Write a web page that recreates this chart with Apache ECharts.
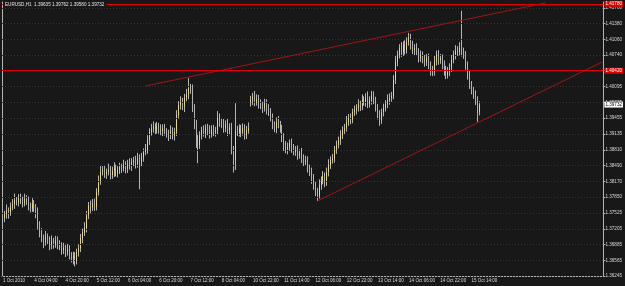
<!DOCTYPE html>
<html><head><meta charset="utf-8">
<script src="https://cdn.jsdelivr.net/npm/echarts@6/dist/echarts.min.js"></script>
<style>html,body{margin:0;padding:0;background:#181818;}#c{width:625px;height:286px;}</style>
</head><body><div id="c"></div><script>
const symbolTitle = 'EURUSD,H1  1.39635 1.39762 1.39580 1.39732';
const timeTickLabels = ['1 Oct 2010','4 Oct 04:00','4 Oct 20:00','5 Oct 12:00','6 Oct 04:00','6 Oct 20:00','7 Oct 12:00','8 Oct 04:00','10 Oct 22:00','11 Oct 14:00','12 Oct 06:00','12 Oct 22:00','13 Oct 14:00','14 Oct 06:00','14 Oct 22:00','15 Oct 14:00'];
const barsPerTimeLabel = 16;
const priceTickValues = [1.36245,1.36565,1.36885,1.37205,1.37525,1.37850,1.38170,1.38490,1.38810,1.39135,1.39455,1.39775,1.40095,1.40420,1.40740,1.41060,1.41380,1.41700];
const priceMin = 1.36245, priceMax = 1.41818;
const closes = [
1.3742,1.3750,1.3758,1.3754,1.3766,1.3771,1.3779,1.3775,1.3783,1.3779,
1.3773,1.3781,1.3777,1.3768,1.3762,1.3771,1.3764,1.3754,1.3728,1.3713,
1.3701,1.3693,1.3705,1.3697,1.3687,1.3695,1.3689,1.3697,1.3691,1.3685,
1.3677,1.3683,1.3673,1.3679,1.3667,1.3660,1.3665,1.3656,1.3673,1.3681,
1.3701,1.3713,1.3722,1.3748,1.3768,1.3764,1.3773,1.3766,1.3795,1.3819,
1.3836,1.3840,1.3832,1.3836,1.3842,1.3830,1.3838,1.3844,1.3834,1.3840,
1.3846,1.3844,1.3850,1.3842,1.3852,1.3848,1.3856,1.3860,1.3852,1.3864,
1.3856,1.3866,1.3877,1.3881,1.3901,1.3917,1.3925,1.3927,1.3921,1.3929,
1.3923,1.3919,1.3925,1.3917,1.3915,1.3911,1.3919,1.3909,1.3917,1.3952,
1.3972,1.3978,1.3970,1.3987,1.3993,1.4007,1.4005,1.3966,1.3932,1.3905,
1.3891,1.3911,1.3921,1.3915,1.3925,1.3919,1.3913,1.3923,1.3917,1.3921,
1.3946,1.3938,1.3932,1.3925,1.3934,1.3921,1.3927,1.3881,1.3860,1.3921,
1.3917,1.3925,1.3917,1.3925,1.3911,1.3921,1.3925,1.3982,1.3989,1.3978,
1.3985,1.3974,1.3972,1.3966,1.3976,1.3962,1.3958,1.3946,1.3932,1.3925,
1.3938,1.3932,1.3925,1.3905,1.3891,1.3881,1.3887,1.3895,1.3885,1.3877,
1.3881,1.3870,1.3875,1.3864,1.3856,1.3860,1.3844,1.3836,1.3824,1.3809,
1.3795,1.3789,1.3809,1.3819,1.3828,1.3815,1.3836,1.3850,1.3860,1.3864,
1.3881,1.3891,1.3901,1.3911,1.3921,1.3925,1.3938,1.3946,1.3942,1.3958,
1.3962,1.3966,1.3974,1.3970,1.3982,1.3978,1.3987,1.3974,1.3982,1.3991,
1.3982,1.3966,1.3952,1.3942,1.3958,1.3966,1.3974,1.3982,1.3987,1.3991,
1.4023,1.4060,1.4074,1.4088,1.4080,1.4094,1.4084,1.4101,1.4109,1.4094,
1.4084,1.4088,1.4080,1.4068,1.4074,1.4064,1.4060,1.4068,1.4054,1.4044,
1.4040,1.4060,1.4074,1.4064,1.4068,1.4054,1.4044,1.4033,1.4040,1.4048,
1.4064,1.4074,1.4084,1.4080,1.4088,1.4080,1.4074,1.4054,1.4033,1.4013,
1.4003,1.3993,1.3982,1.3958,1.3973];
// upper wick length above the body, in pips (0.0001)
const highWickPips = [
9,7,12,6,8,10,13,6,8,9, 7,11,8,9,6,12,8,7,10,8, 9,8,11,6,8,12,7,9,8,6, 8,9,7,11,8,6,9,8,7,8,
9,8,12,9,7,10,8,9,8,10, 12,8,9,7,11,8,9,12,7,8, 9,7,11,8,9,12,8,7,9,11, 8,9,7,12,10,8,9,12,8,9,
7,10,8,9,8,7,12,8,9,10, 8,12,9,8,12,20,8,9,8,10, 9,8,7,10,8,9,12,8,9,7, 14,9,8,12,7,10,8,9,8,55,
9,8,7,10,8,9,12,9,8,12, 9,8,10,7,9,8,12,8,9,7, 9,12,8,7,10,8,9,7,9,8, 8,9,7,10,8,9,8,7,9,8,
7,9,12,8,10,7,9,12,8,9, 8,9,7,10,8,9,12,8,9,7, 9,8,10,7,12,8,9,13,8,10, 9,7,8,10,7,9,8,12,9,8,
10,12,9,8,12,8,10,9,10,8, 9,8,10,8,9,7,10,8,9,7, 8,12,9,10,8,7,9,8,10,9, 10,9,10,8,12,76,9,8,7,9,
8,7,9,8,7];
// lower wick length below the body, in pips (0.0001)
const lowWickPips = [
12,8,9,13,7,8,10,7,9,8, 9,7,8,10,8,7,9,12,9,10, 8,12,7,9,10,8,9,7,12,8, 9,8,10,7,9,8,12,12,8,9,
8,10,7,9,8,12,7,9,8,7, 9,7,8,10,7,9,8,12,7,9, 8,10,7,9,8,7,10,8,9,7, 55,8,9,7,8,10,7,9,8,7,
9,8,10,7,9,12,8,7,9,8, 7,9,8,12,7,9,10,8,9,20, 37,8,9,7,10,8,9,7,8,9, 8,10,7,9,8,12,8,9,25,20,
8,9,10,7,9,8,7,9,10,8, 7,9,8,10,7,9,8,7,9,8, 10,7,9,8,12,7,9,8,10,7, 8,9,7,10,8,7,9,8,12,9,
8,12,7,9,8,10,7,9,8,7, 9,8,7,10,8,9,7,8,9,7, 8,9,7,10,8,7,9,8,7,9, 8,7,9,12,8,9,7,8,9,8,
7,8,9,7,10,8,9,7,8,9, 8,10,7,9,8,7,10,8,9,12, 9,8,7,10,8,9,12,8,7,9, 8,7,9,8,7,9,8,10,9,8,
9,8,10,20,7];
const firstOpen = 1.3746;
const gapOpens = {127: 1.3978};
const horizontalLines = [1.40420, 1.41780];
const lastPrice = 1.39732;
const upperTrend = [[73, 1.4011], [278, 1.4180]];
const lowerTrend = [[161, 1.3777], [307, 1.4060]];
const slotCount = 308;

const slots = [];
for (let i = 0; i < slotCount; i++) slots.push(String(i));
const opens = closes.map((c, i) => i === 0 ? firstOpen : (gapOpens[i] !== undefined ? gapOpens[i] : closes[i - 1]));
const candles = closes.map((c, i) => {
  const o = opens[i];
  return [o, c, Math.min(o, c) - lowWickPips[i] * 0.0001, Math.max(o, c) + highWickPips[i] * 0.0001];
});
// bullish bodies drawn on top in yellow (no wicks)
const bullBodies = closes.map((c, i) => {
  const o = opens[i];
  return c > o ? [o, c, o, c] : '-';
});

const FONT = 'Liberation Sans';
const showTick = (i) => i % barsPerTimeLabel === 0 && i / barsPerTimeLabel < timeTickLabels.length;
const chart = echarts.init(document.getElementById('c'), null, {renderer: 'canvas'});
const boxLabel = (bg, fg) => ({
  show: true, position: 'end', distance: 1,
  formatter: (p) => Number(p.value).toFixed(5),
  backgroundColor: bg, color: fg, fontFamily: FONT, fontSize: 4.6, padding: [1, 1, 0, 1]
});
chart.setOption({
  backgroundColor: '#181818',
  animation: false,
  title: {
    text: symbolTitle, left: 3, top: 1, padding: [1, 2],
    backgroundColor: '#181818',
    textStyle: {color: '#e6e6e6', fontSize: 4.6, fontWeight: 'normal', fontFamily: FONT}
  },
  grid: {left: 2, right: 21, top: 2, bottom: 10},
  xAxis: {
    type: 'category', data: slots, boundaryGap: true,
    axisLine: {lineStyle: {color: '#b4b4b4', width: 1}},
    axisTick: {interval: showTick, alignWithLabel: true, length: 3, lineStyle: {color: '#b4b4b4'}},
    axisLabel: {interval: showTick, formatter: (v, i) => timeTickLabels[i / barsPerTimeLabel],
      align: 'left', margin: 2, color: '#d8d8d8', fontSize: 4.5, fontFamily: FONT},
    splitLine: {show: false}
  },
  yAxis: [{
    type: 'value', position: 'right', min: priceMin, max: priceMax, scale: true,
    axisLine: {show: true, lineStyle: {color: '#b4b4b4'}},
    axisTick: {show: true, customValues: priceTickValues, length: 2, lineStyle: {color: '#b4b4b4'}},
    axisLabel: {customValues: priceTickValues, formatter: (v) => v.toFixed(5), margin: 2,
      color: '#d8d8d8', fontSize: 4.6, fontFamily: FONT},
    splitLine: {show: false}
  }, {
    type: 'value', position: 'left', min: priceMin, max: priceMax,
    axisLine: {show: true, lineStyle: {color: '#b4b4b4'}},
    axisTick: {show: false}, axisLabel: {show: false}, splitLine: {show: false}
  }],
  series: [{
    type: 'line', data: [], silent: true, z: 1,
    markLine: {
      silent: true, symbol: ['none', 'none'], label: {show: false}, animation: false, precision: 5,
      lineStyle: {color: '#363636', type: [1, 2], width: 1},
      data: priceTickValues.map(v => ({yAxis: v}))
    }
  }, {
    type: 'candlestick', data: candles, barWidth: 1, z: 3,
    itemStyle: {color: '#b4b4b4', color0: '#b4b4b4', borderColor: '#b4b4b4', borderColor0: '#b4b4b4', borderWidth: 1}
  }, {
    type: 'candlestick', data: bullBodies, barWidth: 1, z: 4,
    itemStyle: {color: '#ead87f', color0: '#ead87f', borderColor: '#ead87f', borderColor0: '#ead87f', borderWidth: 1}
  }, {
    type: 'line', data: [], silent: true, z: 6,
    markLine: {
      silent: true, symbol: ['none', 'none'], animation: false, precision: 5,
      data: [
        [{coord: upperTrend[0], lineStyle: {color: '#a01414', type: 'solid', width: 1}, label: {show: false}}, {coord: upperTrend[1]}],
        [{coord: lowerTrend[0], lineStyle: {color: '#a01414', type: 'solid', width: 1}, label: {show: false}}, {coord: lowerTrend[1]}],
        {yAxis: horizontalLines[0], lineStyle: {color: '#e00000', type: 'solid', width: 1}, label: boxLabel('#e00000', '#ffffff')},
        {yAxis: horizontalLines[1], lineStyle: {color: '#e00000', type: 'solid', width: 1}, label: boxLabel('#e00000', '#ffffff')},
        {yAxis: lastPrice, lineStyle: {color: 'rgba(0,0,0,0)', type: 'solid', width: 1}, label: boxLabel('#ffffff', '#000000')}
      ]
    }
  }]
});
</script></body></html>
